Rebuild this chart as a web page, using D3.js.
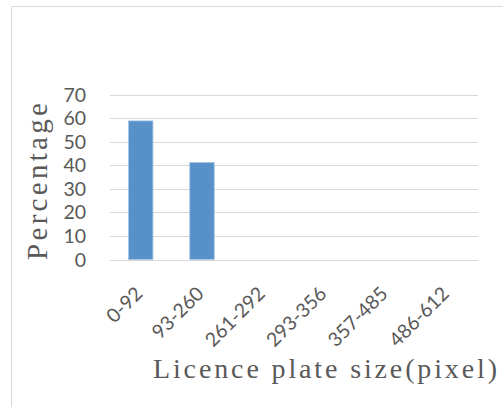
<!DOCTYPE html>
<html><head><meta charset="utf-8">
<script src="https://cdn.jsdelivr.net/npm/d3@7"></script>
<style>html,body{margin:0;padding:0;background:#fff;}svg{display:block;}</style>
</head><body>
<svg id="c" width="503" height="407"></svg>
<script>
const categories = ["0-92","93-260","261-292","293-356","357-485","486-612"];
const values = [58.8, 41.2, 0, 0, 0, 0];
const yTicks = [0,10,20,30,40,50,60,70];
const yTitle = "Percentage";
const xTitle = "Licence plate size(pixel)";

const svg = d3.select("#c");
svg.append("path").attr("d","M11.5,407V6.5H502.5")
  .attr("fill","none").attr("stroke","#d9d9d9").attr("stroke-width",1);

const x = d3.scaleBand().domain(categories).range([110,478]).paddingInner(0.6).paddingOuter(0.3);
const y = d3.scaleLinear().domain([0,70]).range([259.5,94.5]);

// gridlines
svg.append("g").selectAll("line").data(yTicks).join("line")
  .attr("x1",110).attr("x2",478)
  .attr("y1",d=>Math.round(y(d))+0.5).attr("y2",d=>Math.round(y(d))+0.5)
  .attr("stroke","#d9d9d9").attr("stroke-width",1);

// y tick labels
svg.append("g").selectAll("text").data(yTicks).join("text")
  .attr("x",86).attr("y",d=>y(d)).attr("dy","0.36em")
  .attr("text-anchor","end").attr("font-family","Lato, 'Open Sans', sans-serif")
  .attr("font-size",19.5).attr("fill","#595959").text(d=>d);

// bars
svg.append("g").selectAll("rect").data(values.map((v,i)=>({c:categories[i],v})).filter(d=>d.v>0)).join("rect")
  .attr("x",d=>x(d.c)).attr("width",x.bandwidth())
  .attr("y",d=>y(d.v)).attr("height",d=>y(0)-y(d.v))
  .attr("fill","#5891c8").attr("stroke","#a9c6e6").attr("stroke-width",0.8);

// x tick labels
svg.append("g").selectAll("text").data(categories).join("text")
  .attr("transform",d=>`translate(${x(d)+x.bandwidth()/2+3},295) rotate(-45)`)
  .attr("text-anchor","end").attr("font-family","Lato, 'Open Sans', sans-serif")
  .attr("font-size",19.5).attr("fill","#595959").text(d=>d);

// axis titles
svg.append("text").attr("transform","translate(47,181.5) rotate(-90)")
  .attr("text-anchor","middle").attr("font-family","'Liberation Serif', serif")
  .attr("font-size",29).attr("fill","#595959")
  .attr("textLength",157).attr("lengthAdjust","spacing").text(yTitle);

svg.append("text").attr("x",153).attr("y",377.5)
  .attr("font-family","'Liberation Serif', serif")
  .attr("font-size",28).attr("fill","#595959")
  .attr("textLength",344).attr("lengthAdjust","spacing").text(xTitle);
</script>
</body></html>
